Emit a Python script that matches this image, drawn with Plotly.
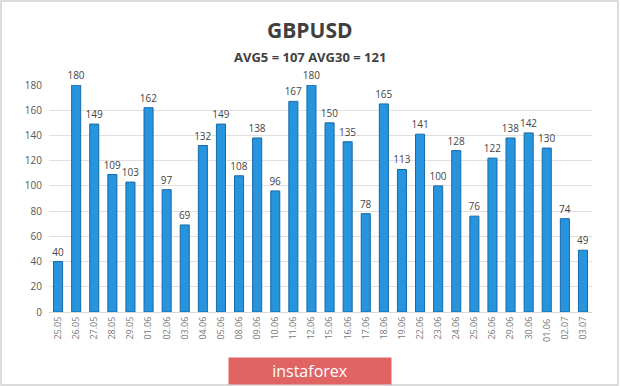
import plotly.graph_objects as go

dates = ["25.05", "26.05", "27.05", "28.05", "29.05", "01.06", "02.06", "03.06", "04.06", "05.06",
         "08.06", "09.06", "10.06", "11.06", "12.06", "15.06", "16.06", "17.06", "18.06", "19.06",
         "22.06", "23.06", "24.06", "25.06", "26.06", "29.06", "30.06", "01.06 ", "02.07", "03.07"]
values = [40, 180, 149, 109, 103, 162, 97, 69, 132, 149,
          108, 138, 96, 167, 180, 150, 135, 78, 165, 113,
          141, 100, 128, 76, 122, 138, 142, 130, 74, 49]
y_ticks = [0, 20, 40, 60, 80, 100, 120, 140, 160, 180]

W, H = 620, 386
L, R, T, B = 49, 28, 85, 74
pw, ph = W - L - R, H - T - B

def px(x):
    return (x - L) / pw

def py(y):
    return (H - B - y) / ph

fig = go.Figure()
fig.add_trace(go.Bar(
    x=dates, y=values,
    marker=dict(color="#2794de", line=dict(color="#1669a8", width=1)),
    width=0.5,
    text=[str(v) for v in values], textposition="outside",
    textfont=dict(family="Open Sans", size=10, color="#444"),
    cliponaxis=False,
))

fig.update_layout(
    width=W, height=H,
    margin=dict(l=L, r=R, t=T, b=B),
    paper_bgcolor="white", plot_bgcolor="white",
    showlegend=False,
    uniformtext=dict(minsize=10, mode="show"),
    font=dict(family="Open Sans", color="#555"),
    xaxis=dict(
        type="category", tickangle=-90, tickfont=dict(size=9, color="#777"),
        showgrid=False, showline=True, linecolor="#d9d9d9", ticks="",
    ),
    yaxis=dict(
        range=[0, 180], tickvals=y_ticks, tickfont=dict(size=10, color="#555"),
        showgrid=True, gridcolor="#e0e0e0", zeroline=False, ticks="", ticklabelstandoff=6,
    ),
    annotations=[
        dict(text="<b>GBPUSD</b>", x=px(310), y=py(30), xref="paper", yref="paper",
             xanchor="center", yanchor="middle",
             showarrow=False, font=dict(size=21, color="#404040")),
        dict(text="<b>AVG5 = 107 AVG30 = 121</b>", x=px(310), y=py(57), xref="paper", yref="paper",
             xanchor="center", yanchor="middle",
             showarrow=False, font=dict(size=13, color="#404040")),
        dict(text="instaforex", x=px(310), y=py(371), xref="paper", yref="paper",
             xanchor="center", yanchor="middle", width=160, height=24,
             bgcolor="#e06464", borderpad=1,
             showarrow=False, font=dict(size=16, color="white")),
    ],
    shapes=[
        dict(type="rect", xref="paper", yref="paper", x0=px(1), x1=px(618), y0=py(385), y1=py(1),
             line=dict(color="#d0d0d0", width=1.5), layer="below"),
    ],
)

fig.write_html("out.html", config={"displayModeBar": False},
               post_script="document.body.style.margin='0';")
